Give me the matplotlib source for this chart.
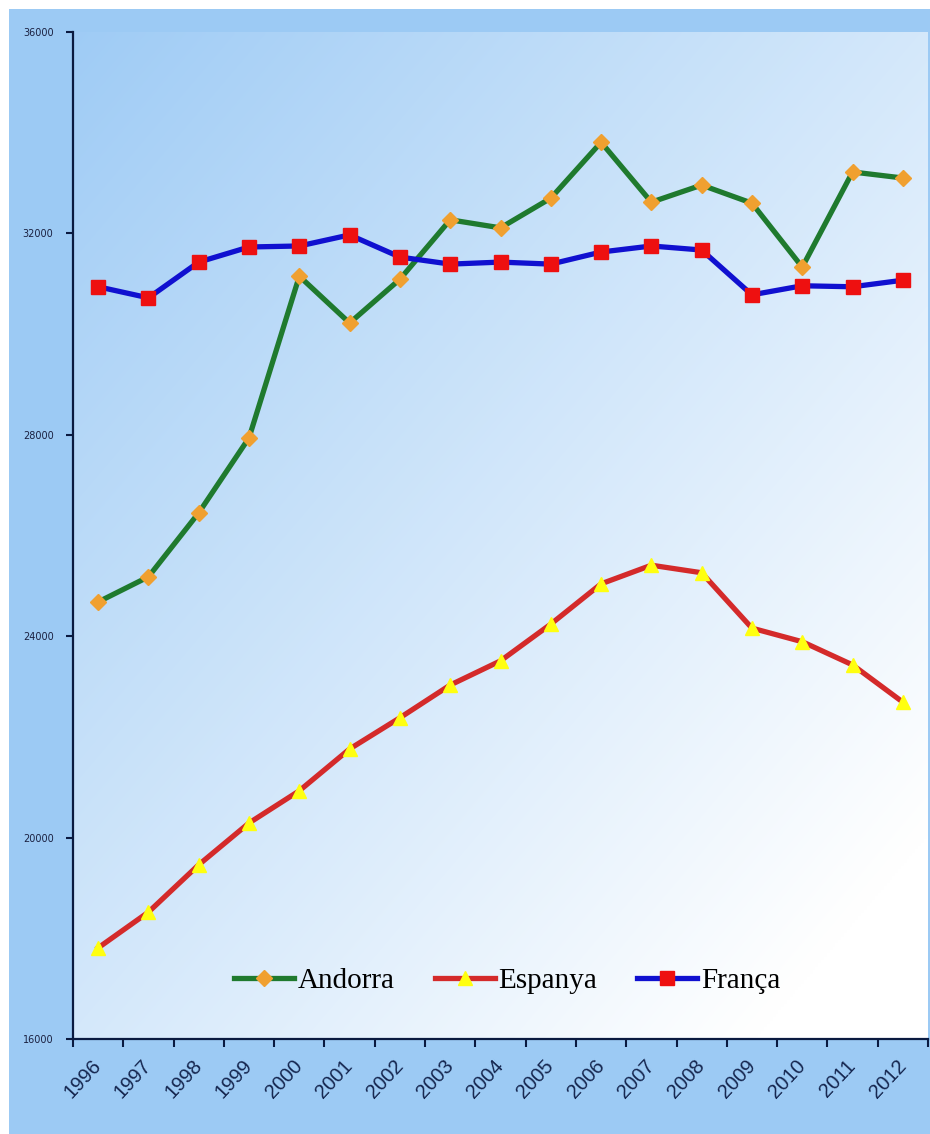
import matplotlib
matplotlib.use('Agg')
import matplotlib.pyplot as plt
import numpy as np
from matplotlib.patches import Rectangle

years = [str(y) for y in range(1996, 2013)]
andorra = [24680, 25180, 26450, 27940, 31150, 30220, 31090, 32270, 32110, 32700,
           33810, 32620, 32960, 32600, 31330, 33220, 33100]
espanya = [17810, 18520, 19460, 20290, 20930, 21760, 22380, 23030, 23510, 24240,
           25040, 25410, 25260, 24160, 23890, 23430, 22690]
franca = [30940, 30720, 31430, 31730, 31750, 31970, 31530, 31390, 31430, 31390,
          31630, 31750, 31670, 30780, 30960, 30940, 31070]
yticks = [16000, 20000, 24000, 28000, 32000, 36000]
series_names = ['Andorra', 'Espanya', 'França']

W, H = 930, 1134
fig = plt.figure(figsize=(W / 100, H / 100), dpi=100, facecolor='white')
fig.patches.append(Rectangle((9 / W, 0), 1, 1 - 9 / H, transform=fig.transFigure,
                             facecolor='#9ccaf4', edgecolor='none', zorder=-10))

ax = fig.add_axes([73 / W, 1 - 1039 / H, (928 - 73) / W, (1039 - 32) / H])
ax.set_zorder(1)

# gradient background of the plot area
n = 300
jj, ii = np.meshgrid(np.linspace(0, 1, n), np.linspace(0, 1, n))
t = (jj + ii) / 2.0
c0 = np.array([0x9c, 0xca, 0xf5]) / 255.0
c1 = np.array([1.0, 1.0, 1.0])
t = np.clip(t * 1.08 + 0.03, 0, 1)
img = c0[None, None, :] * (1 - t[..., None]) + c1[None, None, :] * t[..., None]
x = np.arange(len(years))
ax.imshow(img, extent=(-0.5, len(years) - 0.5, 16000, 36000), aspect='auto',
          origin='upper', zorder=0, interpolation='bilinear')

ax.plot(x, andorra, color='#1f7a2e', lw=3.8, marker='D', ms=8,
        mfc='#f0a030', mec='#f0a030', label=series_names[0], zorder=3)
ax.plot(x, espanya, color='#d42a2a', lw=3.8, marker='^', ms=9.5,
        mfc='#ffff10', mec='#ffff10', label=series_names[1], zorder=3)
ax.plot(x, franca, color='#1010d0', lw=3.8, marker='s', ms=10.5,
        mfc='#ee1010', mec='#ee1010', label=series_names[2], zorder=4)

ax.set_xlim(-0.5, len(years) - 0.5)
ax.set_ylim(16000, 36000)

ax.set_yticks(yticks)
ax.set_yticklabels([str(v) for v in yticks], fontsize=7, color='#1a2040',
                   family='DejaVu Sans')
ax.tick_params(axis='y', direction='out', length=5, width=1.5, color='#0a1a40', pad=9)

ax.set_xticks(np.arange(len(years) + 1) - 0.5)
ax.set_xticklabels([])
ax.tick_params(axis='x', which='major', direction='out', length=6, width=1.5, color='#0a1a40')
ax.set_xticks(x, minor=True)
ax.set_xticklabels(years, minor=True, rotation=47, ha='right', va='center',
                   rotation_mode='anchor', fontsize=14.5, color='#15264f',
                   family='Liberation Sans')
ax.tick_params(axis='x', which='minor', length=0, pad=17)

for s in ['top', 'right']:
    ax.spines[s].set_visible(False)
for s in ['left', 'bottom']:
    ax.spines[s].set_color('#0a1a40')
    ax.spines[s].set_linewidth(1.6)

leg = ax.legend(loc='center', bbox_to_anchor=(0.508, 0.0576), ncol=3, frameon=False,
                prop=dict(family='Liberation Serif', size=21), handlelength=2.05,
                handletextpad=0.14, columnspacing=1.37)

fig.savefig('out.png', dpi=100, facecolor=fig.get_facecolor())
